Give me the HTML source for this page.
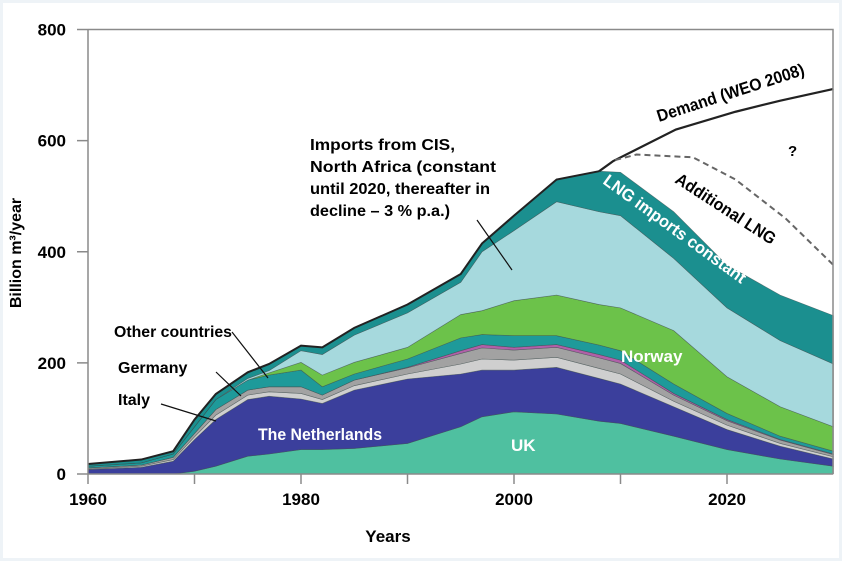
<!DOCTYPE html>
<html><head><meta charset="utf-8">
<style>
html,body{margin:0;padding:0;background:#eef3f7;}
#wrap{position:absolute;left:3px;top:3px;width:836px;height:555px;background:#fff;}
svg{position:absolute;left:0;top:0;}
text{font-family:"Liberation Sans Narrow","Liberation Sans",sans-serif;font-weight:bold;}
</style></head>
<body>
<div id="wrap"></div>
<svg id="chart" width="842" height="561"></svg>
<script>
const years   = [1960,1965,1968,1970,1972,1975,1977,1980,1982,1985,1990,1995,1997,2000,2004,2008,2010,2015,2020,2025,2030];
const uk      = [0,0,0,5,14,32,36,44,44,46,55,85,103,112,108,95,91,68,44,27,14];
const nl      = [8,12,23,57,84,102,104,91,83,105,116,95,84,75,84,77,71,53,36,23,13];
const italy   = [1,2,3,5,8,8,8,10,7,8,9,18,20,18,18,18,18,10,8,5,4];
const germany = [2,2,4,6,10,9,9,12,8,10,11,19,20,18,18,19,19,11,8,6,4];
const pink    = [0,0,0,0,0,0,0,0,0,0,1,5,6,5,5,6,6,3,2,1,1];
const other   = [3,4,6,12,18,18,21,30,15,11,15,23,18,21,16,17,17,17,11,6,5];
const norway  = [0,0,0,0,0,0,4,14,21,21,21,42,43,63,73,73,77,96,66,53,44];
const cis     = [0,0,0,0,0,3,4,21,37,49,62,58,106,126,168,167,166,130,124,119,113];
const lng     = [4,6,5,13,10,11,12,9,13,13,15,15,15,27,40,73,78,84,77,82,87];
const demandYears = [2008,2009.3,2015.2,2020.8,2025,2030];
const demandVals  = [545,563,620,652,672,693];
const addYears = [2009.5,2011.5,2016.8,2020.8,2025.5,2030];
const addVals  = [565,575,570,530,460,376];
const xTicks = [1960,1980,2000,2020];
const xMinor = [1970,1990,2010];
const yTicks = [0,200,400,600,800];

const NS="http://www.w3.org/2000/svg";
const svg=document.getElementById('chart');
const X=y=>88+(y-1960)*10.65;
const Y=v=>474-v*0.5556;
function el(tag,attrs,parent){const e=document.createElementNS(NS,tag);for(const k in attrs)e.setAttribute(k,attrs[k]);(parent||svg).appendChild(e);return e;}

const layers=[['uk-area',uk,'#4fc0a0'],['netherlands-area',nl,'#3b3f9c'],['italy-area',italy,'#cfcfcf'],['germany-area',germany,'#a2a2a2'],['other-pink-area',pink,'#b060a8'],['other-countries-area',other,'#1e9a9a'],['norway-area',norway,'#6cc24a'],['cis-imports-area',cis,'#a6d9dd'],['lng-area',lng,'#1b8f8f']];
let base=years.map(()=>0);
const gArea=el('g',{});


layers.forEach(([name,vals,col])=>{
  const top=base.map((b,i)=>b+vals[i]);
  let d='M'+years.map((yr,i)=>X(yr)+','+Y(top[i])).join(' L');
  for(let i=years.length-1;i>=0;i--) d+=' L'+X(years[i])+','+Y(base[i]);
  d+='Z';
  const p=el('path',{d:d,fill:col,stroke:'#3a4a4a','stroke-width':0.6,'stroke-opacity':0.6},gArea);
  
  
  base=top;
});
const totalD='M'+years.filter(y=>y<=2008).map((yr,i)=>X(yr)+','+Y(base[i])).join(' L');
const tl=el('path',{d:totalD,fill:'none',stroke:'#222','stroke-width':2});


const dl=el('path',{d:'M'+demandYears.map((y,i)=>X(y)+','+Y(demandVals[i])).join(' L'),fill:'none',stroke:'#222','stroke-width':2.2});


const al=el('path',{d:'M'+addYears.map((y,i)=>X(y)+','+Y(addVals[i])).join(' L'),fill:'none',stroke:'#666','stroke-width':2,'stroke-dasharray':'6,4'});



const fr=el('path',{d:`M88,29.5 L833,29.5 L833,474 M88,29.5 L88,474 L833,474`,fill:'none',stroke:'#8a8a8a','stroke-width':1.5});


yTicks.forEach(v=>{
  const t=el('line',{x1:77,x2:88,y1:Y(v),y2:Y(v),stroke:'#8a8a8a','stroke-width':1.5});
  
  
  const l=el('text',{x:66,y:Y(v)+6,'text-anchor':'end','font-size':17});
  l.textContent=v;
  
  
});
xTicks.concat(xMinor).forEach(yr=>{
  const t=el('line',{x1:X(yr),x2:X(yr),y1:474,y2:484,stroke:'#8a8a8a','stroke-width':1.5});
  
  
});
xTicks.forEach(yr=>{
  const l=el('text',{x:X(yr),y:505,'text-anchor':'middle','font-size':17});
  l.textContent=yr;
  
  
});
</script>
<svg width="842" height="561" style="position:absolute;left:0;top:0">
<text x="388" y="542" text-anchor="middle" font-size="17">Years</text>
<text transform="translate(21,253) rotate(-90)" text-anchor="middle" font-size="16">Billion m³/year</text>
<g font-size="16">
<text x="310" y="150" textLength="145" lengthAdjust="spacingAndGlyphs">Imports from CIS,</text>
<text x="310" y="172" textLength="186" lengthAdjust="spacingAndGlyphs">North Africa (constant</text>
<text x="310" y="194" textLength="180" lengthAdjust="spacingAndGlyphs">until 2020, thereafter in</text>
<text x="310" y="216" textLength="140" lengthAdjust="spacingAndGlyphs">decline – 3 % p.a.)</text>
</g>
<line x1="477" y1="220" x2="512" y2="270" stroke="#111" stroke-width="1.2"/>
<text x="114" y="337" font-size="16" textLength="118" lengthAdjust="spacingAndGlyphs">Other countries</text>
<line x1="232" y1="332" x2="268" y2="378" stroke="#111" stroke-width="1.2"/>
<text x="118" y="373" font-size="16">Germany</text>
<line x1="216" y1="372" x2="241" y2="396" stroke="#111" stroke-width="1.2"/>
<text x="118" y="405" font-size="16">Italy</text>
<line x1="161" y1="404" x2="216" y2="421" stroke="#111" stroke-width="1.2"/>
<text x="258" y="440" font-size="17" fill="#fff" textLength="124" lengthAdjust="spacingAndGlyphs">The Netherlands</text>
<text x="511" y="451" font-size="17" fill="#fff">UK</text>
<text x="621" y="362" font-size="17" fill="#fff">Norway</text>
<text transform="translate(602,183) rotate(36)" font-size="17" fill="#fff" textLength="172" lengthAdjust="spacingAndGlyphs">LNG imports constant</text>
<text transform="translate(674,182) rotate(33)" font-size="17" textLength="116" lengthAdjust="spacingAndGlyphs">Additional LNG</text>
<text transform="translate(659,122) rotate(-18)" font-size="17" textLength="154" lengthAdjust="spacingAndGlyphs">Demand (WEO 2008)</text>
<text x="788" y="156" font-size="15">?</text>
</svg>
</body></html>
